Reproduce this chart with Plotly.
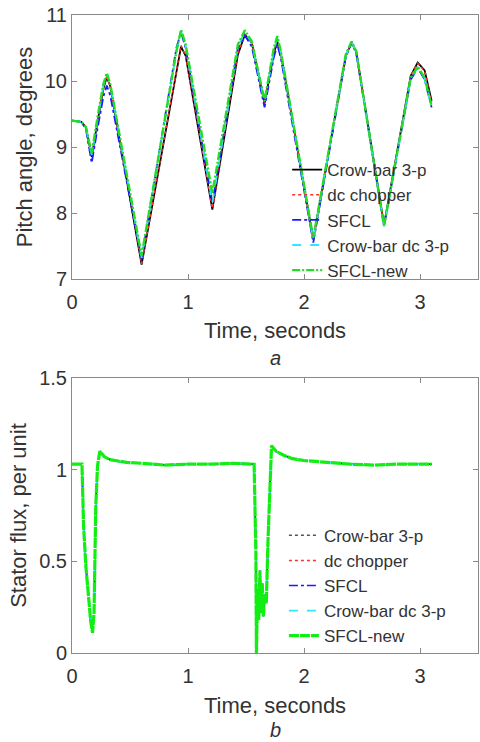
import plotly.graph_objects as go
from plotly.subplots import make_subplots

# %% pitch angle (panel a)
t_pitch = [0, 0.08, 0.12, 0.17, 0.22, 0.27, 0.30, 0.33, 0.60, 0.90, 0.94, 0.98, 1.21,
           1.43, 1.49, 1.55, 1.66, 1.74, 1.77, 1.80, 2.08, 2.36, 2.41, 2.45, 2.69,
           2.92, 2.98, 3.04, 3.10]
pitch_crowbar = [9.40, 9.38, 9.30, 8.85, 9.38, 9.88, 10.06, 9.92, 7.22, 10.15, 10.52, 10.38, 8.05,
                 10.40, 10.70, 10.58, 9.66, 10.42, 10.60, 10.42, 7.60, 10.38, 10.58, 10.45, 7.82,
                 10.08, 10.28, 10.16, 9.70]
pitch_chopper = [9.40, 9.38, 9.30, 8.85, 9.38, 9.88, 10.06, 9.92, 7.23, 10.18, 10.54, 10.38, 8.07,
                 10.42, 10.71, 10.58, 9.66, 10.44, 10.62, 10.42, 7.60, 10.38, 10.58, 10.45, 7.82,
                 10.08, 10.27, 10.15, 9.68]
pitch_sfcl = [9.40, 9.38, 9.27, 8.76, 9.28, 9.76, 9.93, 9.78, 7.30, 10.50, 10.74, 10.50, 8.15,
              10.50, 10.69, 10.52, 9.60, 10.36, 10.55, 10.35, 7.55, 10.36, 10.58, 10.42, 7.80,
              10.02, 10.20, 10.02, 9.60]
pitch_crowbar_dc = [9.40, 9.38, 9.30, 8.88, 9.42, 9.92, 10.10, 9.94, 7.32, 10.44, 10.76, 10.53, 8.15,
                    10.52, 10.75, 10.58, 9.68, 10.46, 10.65, 10.43, 7.60, 10.38, 10.59, 10.44, 7.80,
                    10.03, 10.21, 10.04, 9.62]
pitch_sfcl_new = [9.40, 9.38, 9.30, 8.90, 9.45, 9.95, 10.12, 9.95, 7.35, 10.45, 10.78, 10.55, 8.30,
                  10.55, 10.77, 10.60, 9.70, 10.50, 10.68, 10.45, 7.62, 10.40, 10.60, 10.45, 7.80,
                  10.05, 10.22, 10.05, 9.62]

# %% stator flux (panel b)
t_flux = [0, 0.086, 0.10, 0.12, 0.148, 0.16, 0.177, 0.19, 0.205, 0.22, 0.24, 0.28, 0.325,
          0.40, 0.47, 0.60, 0.80, 1.00, 1.20, 1.40, 1.57, 1.585, 1.59, 1.60, 1.61, 1.62,
          1.63, 1.64, 1.65, 1.66, 1.675, 1.69, 1.72, 1.76, 1.82, 1.90, 2.00, 2.20, 2.40,
          2.60, 2.80, 3.00, 3.10]
flux_sfcl_new = [1.03, 1.03, 0.69, 0.47, 0.27, 0.18, 0.11, 0.22, 0.80, 1.02, 1.10, 1.07, 1.055,
                 1.045, 1.04, 1.035, 1.025, 1.03, 1.03, 1.035, 1.03, 0.55, 0.00, 0.35, 0.18, 0.45,
                 0.22, 0.38, 0.20, 0.32, 0.27, 0.62, 1.13, 1.10, 1.08, 1.06, 1.05, 1.04, 1.03,
                 1.025, 1.03, 1.03, 1.03]
flux_crowbar = [1.03, 1.03, 0.69, 0.47, 0.25, 0.18, 0.11, 0.22, 0.80, 1.02, 1.10, 1.07, 1.055,
                1.045, 1.04, 1.035, 1.025, 1.03, 1.03, 1.035, 1.03, 0.55, 0.00, 0.35, 0.18, 0.45,
                0.22, 0.38, 0.20, 0.32, 0.27, 0.62, 1.13, 1.10, 1.08, 1.06, 1.05, 1.04, 1.03,
                1.025, 1.03, 1.03, 1.03]
flux_chopper = flux_sfcl_new
flux_sfcl = flux_sfcl_new
flux_crowbar_dc = flux_sfcl_new

names = ["Crow-bar 3-p", "dc chopper", "SFCL", "Crow-bar dc 3-p", "SFCL-new"]
x_ticks = [0, 1, 2, 3]

# %%
fig = make_subplots(rows=2, cols=1)

top_styles = [("#000000", "solid", 1.8), ("#ff3030", "dot", 1.5), ("#1a1aff", "dashdot", 1.8),
              ("#33e6ff", "dash", 1.8), ("#22dd22", "8px,2px,2px,2px", 2.4)]
bottom_styles = [("#555555", "dot", 1.5), ("#ff3030", "dot", 1.5), ("#1a1aff", "dashdot", 1.5),
                 ("#33e6ff", "dash", 1.8), ("#11ee11", "10px,1px", 3.2)]

for name, y, (c, d, w) in zip(names, [pitch_crowbar, pitch_chopper, pitch_sfcl,
                                      pitch_crowbar_dc, pitch_sfcl_new], top_styles):
    fig.add_trace(go.Scatter(x=t_pitch, y=y, name=name, mode="lines",
                             line=dict(color=c, dash=d, width=w), legend="legend"),
                  row=1, col=1)

for name, y, (c, d, w) in zip(names, [flux_crowbar, flux_chopper, flux_sfcl,
                                      flux_crowbar_dc, flux_sfcl_new], bottom_styles):
    fig.add_trace(go.Scatter(x=t_flux, y=y, name=name, mode="lines",
                             line=dict(color=c, dash=d, width=w), legend="legend2"),
                  row=2, col=1)

axis_style = dict(showline=True, mirror="ticks", linecolor="#8a8a8a", linewidth=1,
                  ticks="inside", ticklen=5, tickcolor="#8a8a8a", showgrid=False,
                  zeroline=False, automargin=False, tickfont=dict(size=20, color="#333333"))
title_font = dict(size=22, color="#333333")

fig.update_xaxes(range=[0, 3.5], tickvals=x_ticks, ticklabelstandoff=5, **axis_style)
fig.update_xaxes(title=dict(text="Time, seconds", font=title_font, standoff=10), row=1, col=1)
fig.update_xaxes(title=dict(text="Time, seconds", font=title_font, standoff=11), row=2, col=1)
fig.update_yaxes(range=[7, 11], tickvals=[7, 8, 9, 10, 11], domain=[0.5862, 1],
                 title=dict(text="Pitch angle, degrees", font=title_font, standoff=6),
                 row=1, col=1, **axis_style)
fig.update_yaxes(range=[0, 1.5], tickvals=[0, 0.5, 1, 1.5], ticktext=["0", "0.5", "1", "1.5"],
                 domain=[0, 0.4310],
                 title=dict(text="Stator flux, per unit", font=title_font, standoff=6),
                 row=2, col=1, **axis_style)

legend_style = dict(bgcolor="rgba(0,0,0,0)", font=dict(size=17, color="#333333",
                    family="Liberation Sans, Arial"), xanchor="left", yanchor="top",
                    tracegroupgap=0)
fig.update_layout(
    width=480,
    height=742,
    margin=dict(l=72, r=2, t=15, b=89, autoexpand=False),
    plot_bgcolor="white",
    paper_bgcolor="white",
    font=dict(family="Liberation Sans, Arial"),
    legend=dict(x=0.53, y=0.785, **legend_style),
    legend2=dict(x=0.522, y=0.212, **legend_style),
    annotations=[
        dict(text="<i>a</i>", x=0.5, y=0.4624, xref="paper", yref="paper", yanchor="middle",
             showarrow=False, font=dict(size=20, color="#333333")),
        dict(text="<i>b</i>", x=0.5, y=-0.1207, xref="paper", yref="paper", yanchor="middle",
             showarrow=False, font=dict(size=20, color="#333333")),
    ],
)

fig.write_html("out.html", config={"displayModeBar": False},
               post_script="document.body.style.margin = '0';")
